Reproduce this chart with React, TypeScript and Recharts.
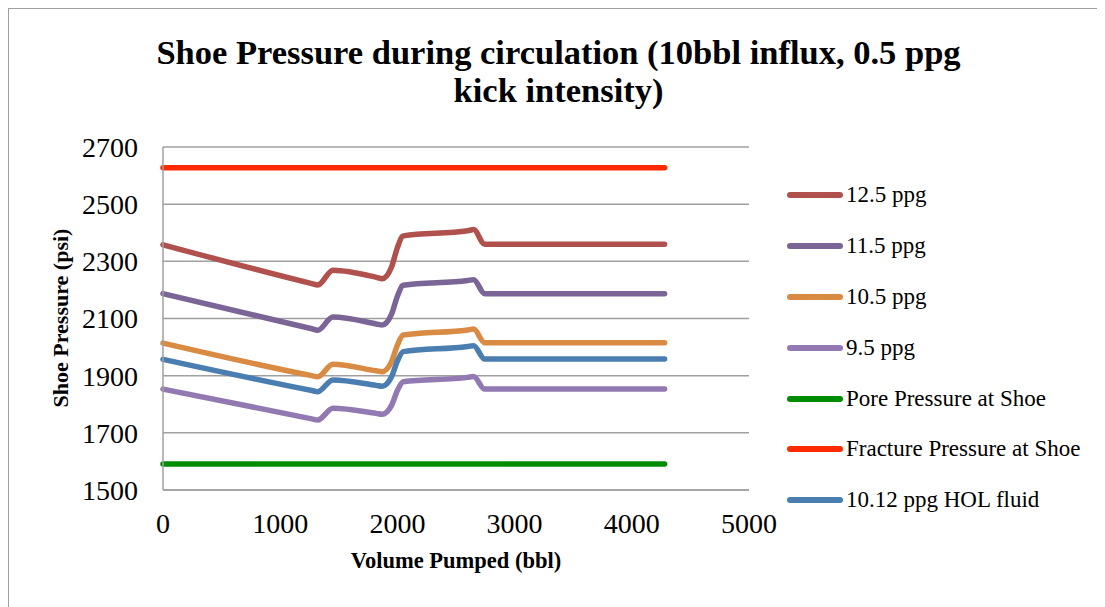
import { LineChart, Line, XAxis, YAxis, CartesianGrid } from "recharts";

// volume pumped (bbl) at the break points of each curve
const volume = [0, 1270, 1320, 1450, 1820, 1870, 1950, 2000, 2050, 2600, 2650, 2745, 4280];

// shoe pressure (psi)
const ppg125 = [2358, 2222, 2217, 2269, 2244, 2239, 2280, 2348, 2389, 2407, 2411, 2360, 2360];
const ppg115 = [2187, 2064, 2059, 2105, 2081, 2077, 2115, 2178, 2216, 2233, 2236, 2187, 2187];
const ppg105 = [2014, 1900, 1896, 1940, 1917, 1914, 1949, 2007, 2042, 2060, 2063, 2015, 2015];
const ppg95 = [1853, 1749, 1745, 1786, 1768, 1765, 1796, 1848, 1879, 1894, 1897, 1853, 1853];
const porePressure = [1591, 1591, 1591, 1591, 1591, 1591, 1591, 1591, 1591, 1591, 1591, 1591, 1591];
const fracturePressure = [2627, 2627, 2627, 2627, 2627, 2627, 2627, 2627, 2627, 2627, 2627, 2627, 2627];
const holFluid = [1957, 1848, 1844, 1885, 1866, 1863, 1896, 1951, 1984, 2002, 2005, 1958, 1958];

const xTicks = [0, 1000, 2000, 3000, 4000, 5000];
const yTicks = [1500, 1700, 1900, 2100, 2300, 2500, 2700];

const SERIES = [
  { key: "p125", name: "12.5 ppg", values: ppg125, color: "#b0514e" },
  { key: "p115", name: "11.5 ppg", values: ppg115, color: "#7b6597" },
  { key: "p105", name: "10.5 ppg", values: ppg105, color: "#d98b43" },
  { key: "p95", name: "9.5 ppg", values: ppg95, color: "#9379b1" },
  { key: "pore", name: "Pore Pressure at Shoe", values: porePressure, color: "#008c00" },
  { key: "frac", name: "Fracture Pressure at Shoe", values: fracturePressure, color: "#ff2a00" },
  { key: "hol", name: "10.12 ppg HOL fluid", values: holFluid, color: "#4a7db0" },
];

const data = volume.map((v, i) => {
  const row: Record<string, number> = { volume: v };
  SERIES.forEach((s) => (row[s.key] = s.values[i]));
  return row;
});

const FONT = "'Liberation Serif', 'Times New Roman', serif";
const GRID = "#a0a0a0";

const ChartLegend = () => (
  <div
    style={{
      position: "absolute",
      left: 778,
      top: 161,
      fontFamily: FONT,
      fontSize: 23,
      color: "#000",
      whiteSpace: "nowrap",
    }}
  >
    {SERIES.map((s) => (
      <div key={s.key} style={{ display: "flex", alignItems: "center", height: 50.8 }}>
        <div
          style={{
            width: 56,
            height: 6,
            borderRadius: 3,
            backgroundColor: s.color,
            marginRight: 3,
          }}
        />
        <span>{s.name}</span>
      </div>
    ))}
  </div>
);

export default function App() {
  return (
    <div
      style={{
        position: "relative",
        width: 1097,
        height: 599,
        borderLeft: `1.5px solid ${GRID}`,
        borderTop: `1.5px solid ${GRID}`,
        boxSizing: "border-box",
        background: "#fff",
        overflow: "hidden",
      }}
    >
      {/* Title */}
      <div
        style={{
          position: "absolute",
          left: 1,
          width: 1097,
          top: 24,
          textAlign: "center",
          fontFamily: FONT,
          fontWeight: "bold",
          fontSize: 34.5,
          lineHeight: "38px",
        }}
      >
        Shoe Pressure during circulation (10bbl influx, 0.5 ppg
        <br />
        kick intensity)
      </div>

      <LineChart
        width={1097}
        height={599}
        data={data}
        margin={{ top: 138, right: 357, bottom: 58, left: 74 }}
      >
        <CartesianGrid vertical={false} stroke={GRID} strokeWidth={1.5} />
        <XAxis
          dataKey="volume"
          type="number"
          domain={[0, 5000]}
          ticks={xTicks}
          tickLine={false}
          tickSize={0}
          tickMargin={23}
          height={60}
          axisLine={{ stroke: GRID, strokeWidth: 1.5 }}
          tick={{ fill: "#000", fontFamily: FONT, fontSize: 28 }}
        />
        <YAxis
          type="number"
          domain={[1500, 2700]}
          ticks={yTicks}
          tickLine={false}
          tickSize={0}
          tickMargin={25}
          width={80}
          axisLine={{ stroke: GRID, strokeWidth: 1.5 }}
          tick={{ fill: "#000", fontFamily: FONT, fontSize: 28 }}
        />
        {SERIES.map((s) => (
          <Line
            key={s.key}
            dataKey={s.key}
            name={s.name}
            type="monotone"
            stroke={s.color}
            strokeWidth={5.5}
            strokeLinecap="round"
            strokeLinejoin="round"
            dot={false}
            activeDot={false}
            isAnimationActive={false}
          />
        ))}
      </LineChart>

      <ChartLegend />

      {/* Axis titles */}
      <div
        style={{
          position: "absolute",
          left: 247,
          width: 400,
          top: 539,
          textAlign: "center",
          fontFamily: FONT,
          fontWeight: "bold",
          fontSize: 22.5,
          whiteSpace: "nowrap",
        }}
      >
        Volume Pumped (bbl)
      </div>
      <div
        style={{
          position: "absolute",
          left: 52 - 120,
          top: 310 - 14,
          width: 240,
          textAlign: "center",
          fontFamily: FONT,
          fontWeight: "bold",
          fontSize: 22,
          transform: "rotate(-90deg)",
          whiteSpace: "nowrap",
        }}
      >
        Shoe Pressure (psi)
      </div>
    </div>
  );
}
